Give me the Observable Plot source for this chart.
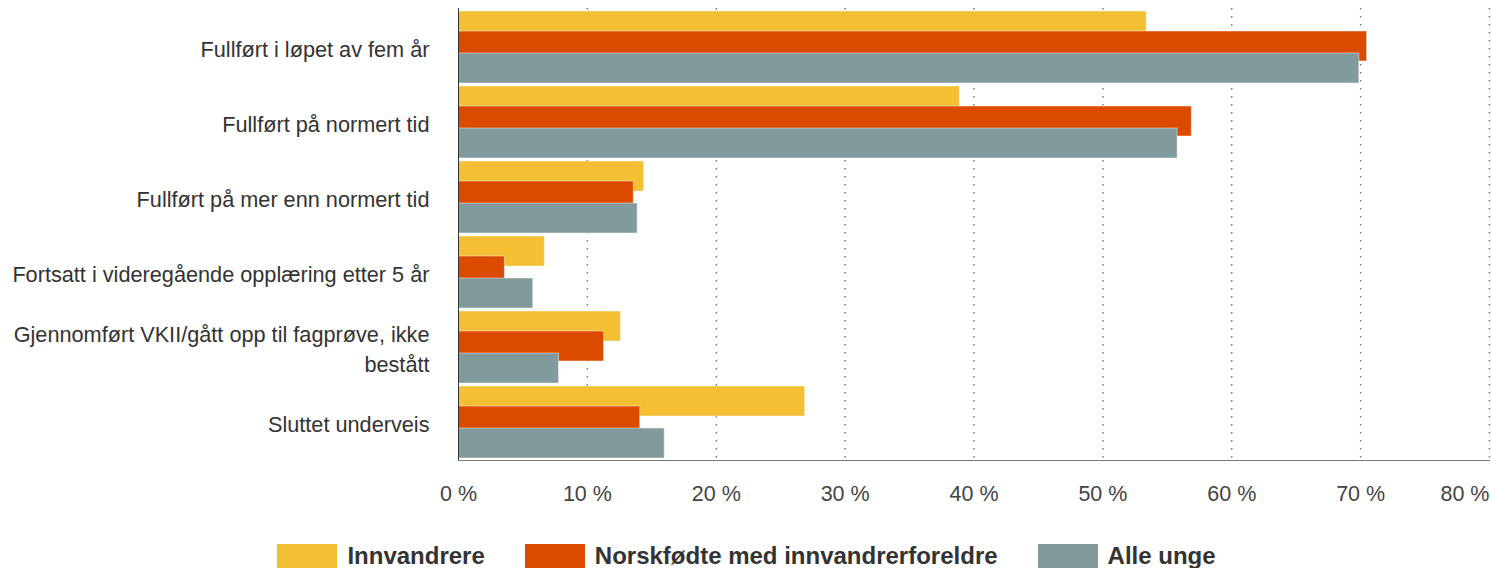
<!DOCTYPE html>
<html>
<head>
<meta charset="utf-8">
<script src="https://cdn.jsdelivr.net/npm/d3@7"></script>
<script src="https://cdn.jsdelivr.net/npm/@observablehq/plot@0.6"></script>
<style>
  html, body { margin: 0; padding: 0; background: #fff; }
  body { width: 1491px; height: 568px; overflow: hidden; font-family: "Liberation Sans", Arial, sans-serif; }
  #legend { display: flex; justify-content: center; align-items: center; gap: 40px; padding-top: 22px; padding-left: 2px; }
  .item { display: flex; align-items: center; gap: 10px; font-weight: bold; font-size: 24px; color: #333; }
  .sw { width: 60px; height: 24px; box-sizing: border-box; }
</style>
</head>
<body>
<div id="chart"></div>
<div id="legend"></div>
<script>
const categories = [
  "Fullført i løpet av fem år",
  "Fullført på normert tid",
  "Fullført på mer enn normert tid",
  "Fortsatt i videregående opplæring etter 5 år",
  "Gjennomført VKII/gått opp til fagprøve, ikke\nbestått",
  "Sluttet underveis"
];
const seriesNames = ["Innvandrere", "Norskfødte med innvandrerforeldre", "Alle unge"];
const seriesColors = ["#f5bf33", "#dc4a00", "#819a9c"];
const innvandrere = [53.4, 38.9, 14.4, 6.7, 12.6, 26.9];
const norskfodte  = [70.5, 56.9, 13.6, 3.6, 11.3, 14.1];
const alleUnge    = [69.9, 55.8, 13.9, 5.8, 7.8, 16.0];
const xTicks = [0, 10, 20, 30, 40, 50, 60, 70, 80];

const seriesValues = [innvandrere, norskfodte, alleUnge];
const rows = seriesValues.map((vals, s) => categories.map((c, i) => ({category: c, value: vals[i], series: seriesNames[s]})));
const insets = [[0, 42], [20, 22], [42, 0]];
const fmt = d => `${d} %`;

const chart = Plot.plot({
  width: 1491,
  height: 520,
  marginLeft: 458,
  marginRight: 2,
  marginTop: 8,
  marginBottom: 60,
  style: {fontFamily: "'Liberation Sans', Arial, sans-serif", color: "#333", background: "#fff"},
  x: {domain: [0, 80], axis: null},
  y: {domain: categories, paddingInner: 0.045, paddingOuter: 0.02, axis: null},
  color: {domain: seriesNames, range: seriesColors},
  marks: [
    Plot.gridX(xTicks.filter(d => d > 0), {stroke: "#7a7a7a", strokeOpacity: 1, strokeDasharray: "1.5,6.5", strokeWidth: 1.5}),
    ...rows.map((data, s) => Plot.barX(data, {
      x: "value", y: "category", fill: "series",
      stroke: "#fff", strokeOpacity: 0.45, strokeWidth: 1,
      insetTop: insets[s][0], insetBottom: insets[s][1]
    })),
    Plot.frame({anchor: "bottom", stroke: "#777"}),
    Plot.ruleX([0], {stroke: "#333", strokeWidth: 1}),
    Plot.axisY({tickSize: 0, tickPadding: 29, fontSize: 21.7, lineHeight: 1.38, fill: "#333", label: null}),
    Plot.axisX({ticks: xTicks.slice(0, -1), tickFormat: fmt, tickSize: 0, tickPadding: 25, fontSize: 21.5, fill: "#444", label: null}),
    Plot.text(xTicks.slice(-1), {x: d => d, text: fmt, frameAnchor: "bottom", lineAnchor: "top", dy: 25, textAnchor: "end", fontSize: 21.5, fill: "#444"})
  ]
});
document.getElementById("chart").appendChild(chart);

const legend = document.getElementById("legend");
seriesNames.forEach((n, i) => {
  const it = document.createElement("div");
  it.className = "item";
  const sw = document.createElement("div");
  sw.className = "sw";
  sw.style.background = seriesColors[i];
  const t = document.createElement("span");
  t.textContent = n;
  it.appendChild(sw); it.appendChild(t);
  legend.appendChild(it);
});
</script>
</body>
</html>
